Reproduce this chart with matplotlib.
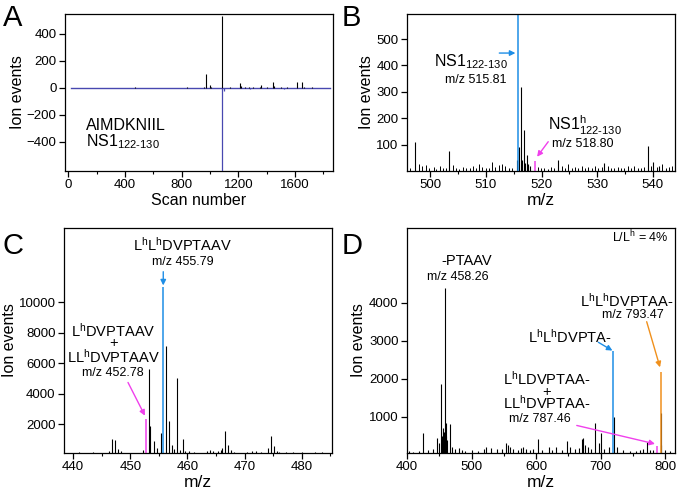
import numpy as np
import matplotlib
matplotlib.use("Agg")
import matplotlib.pyplot as plt
from matplotlib.ticker import MultipleLocator

plt.rcParams['font.family'] = ['Liberation Sans', 'DejaVu Sans']
plt.rcParams['mathtext.fontset'] = 'custom'
plt.rcParams['mathtext.rm'] = 'Liberation Sans'
plt.rcParams['mathtext.it'] = 'Liberation Sans:italic'
plt.rcParams['mathtext.bf'] = 'Liberation Sans:bold'
plt.rcParams['mathtext.sf'] = 'Liberation Sans'

BLUE = '#1e8ee6'
MAGENTA = '#f040ec'
ORANGE = '#f0901c'
NAVY = '#4848b0'

# --- Panel A: extracted ion chromatogram (light up, heavy down) ---
scan_pos = [470, 835, 960, 970, 1000, 1010, 1087, 1140, 1212, 1222, 1250, 1276,
            1300, 1350, 1360, 1400, 1442, 1455, 1500, 1540, 1612, 1651, 1660, 1717]
events_pos = [4, 6, 5, 100, 20, 8, 530, 8, 35, 15, 8, 8,
              4, 10, 20, 5, 45, 18, 6, 4, 45, 45, 10, 6]
scan_neg = [1087, 1100, 1280, 1520]
events_neg = [-620, -20, -5, -5]
scan_range = [20, 1850]

# --- Panel B: MS spectrum around NS1 122-130 ---
b_mz = [497.2, 503.3, 515.55, 516.0, 516.31, 516.55, 516.81, 517.05, 517.31,
        517.6, 518.0, 523.0, 531.3, 539.1, 540.1, 541.1]
b_int = [110, 75, 40, 90, 320, 40, 155, 30, 60, 25, 20, 40, 30, 95, 35, 20]
b_noise_mz = [496.4, 497.9, 498.5, 499.2, 499.8, 500.6, 501.1, 501.7, 502.3, 502.8,
              504.0, 504.6, 505.2, 505.9, 506.5, 507.1, 507.6, 508.2, 508.8, 509.3,
              510.0, 510.6, 511.1, 511.7, 512.3, 512.9, 513.5, 514.1, 514.7, 519.3,
              519.9, 520.5, 521.1, 521.7, 522.3, 523.6, 524.2, 524.8, 525.4, 526.0,
              526.6, 527.2, 527.8, 528.4, 529.0, 529.6, 530.2, 530.8, 531.9, 532.5,
              533.1, 533.7, 534.3, 534.9, 535.5, 536.1, 536.7, 537.3, 537.9, 538.5,
              539.6, 540.7, 541.7, 542.3, 542.9, 543.5]
b_noise_int = [12, 25, 20, 22, 10, 15, 8, 18, 12, 10,
               22, 12, 8, 15, 12, 10, 18, 12, 25, 15,
               10, 12, 35, 15, 22, 25, 18, 12, 10, 15,
               10, 12, 8, 15, 10, 20, 12, 25, 10, 15,
               12, 20, 10, 15, 12, 20, 10, 15, 18, 12,
               10, 15, 12, 10, 20, 12, 18, 10, 12, 15,
               20, 15, 25, 12, 15, 18]
b_light = (515.81, 600)
b_heavy = (518.80, 37)

# --- Panel C ---
c_mz = [441.0, 443.5, 446.3, 446.8, 447.3, 447.8, 448.3, 452.3, 453.28, 453.5,
        454.2, 454.7, 455.29, 456.29, 456.79, 457.29, 457.7, 458.2, 458.7, 459.15,
        459.6, 460.3, 461.2, 463.4, 463.9, 464.4, 465.3, 465.8, 466.1, 466.6,
        467.1, 467.6, 468.2, 470.5, 471.3, 472.0, 472.8, 474.1, 474.6, 475.1,
        475.6, 476.1, 477.3, 478.5, 480.0, 482.4, 483.6]
c_int = [180, 150, 250, 1000, 950, 350, 200, 300, 5600, 1900,
         900, 400, 1400, 7100, 2200, 600, 350, 5000, 300, 1000,
         250, 250, 180, 250, 300, 200, 200, 300, 400, 1550,
         600, 300, 180, 180, 250, 200, 180, 400, 1200, 550,
         200, 180, 180, 180, 180, 180, 180]
c_heavy = (455.77, 11000)
c_mixed = (452.78, 2300)

# --- Panel D ---
d_mz = [403, 410, 418, 424.8, 432, 440, 446.5, 450, 452.6, 454, 455.2, 456.5,
        457.2, 458.26, 459.3, 460, 461, 462, 466, 470, 475, 480, 485, 490,
        500, 510, 520, 523, 530, 540, 548, 553, 556, 560, 565, 572, 576, 580,
        585, 590, 596, 603, 610, 620, 625, 630.7, 640, 647.7, 652, 660, 666,
        671, 673, 676, 680, 686, 691.6, 697, 701, 705, 713, 720.4, 725, 735,
        745, 755, 761, 766, 771.6, 776, 781, 793.97, 794.47, 800, 808]
d_int = [90, 80, 110, 560, 120, 150, 430, 300, 1850, 500, 600, 700,
         600, 4400, 500, 830, 500, 400, 800, 200, 150, 180, 120, 100,
         130, 110, 160, 200, 180, 150, 160, 320, 250, 200, 150, 120, 180, 200,
         150, 120, 160, 410, 120, 210, 130, 200, 120, 360, 200, 150, 180,
         410, 430, 250, 200, 150, 825, 300, 580, 150, 210, 1000, 200, 120,
         110, 100, 120, 150, 340, 130, 120, 1100, 250, 120, 90]
d_ptaav = (458.26, 4400)
d_lhlhdvpta = (719.9, 2720)
d_mixed = (787.46, 230)
d_lhlh = (793.47, 2170)

fig = plt.figure(figsize=(6.78, 4.95), dpi=100)
W, H = 678.0, 495.0


def make_ax(l, t, r, b):
    return fig.add_axes([l / W, 1 - b / H, (r - l) / W, (b - t) / H])


def style(ax, major, minor):
    ax.xaxis.set_major_locator(MultipleLocator(major))
    ax.xaxis.set_minor_locator(MultipleLocator(minor))
    ax.tick_params(direction='out', length=4, width=0.9, labelsize=9.5, pad=2)
    ax.tick_params(which='minor', direction='out', length=2.5, width=0.8)
    ax.tick_params(axis='x', top=False)
    ax.tick_params(axis='y', which='minor', left=False)
    for s in ax.spines.values():
        s.set_linewidth(0.9)


def arrow(ax, head, tail, color):
    ax.annotate('', xy=head, xytext=tail,
                arrowprops=dict(arrowstyle='-|>', color=color, lw=1.0,
                                mutation_scale=8, shrinkA=0, shrinkB=0))


# Panel A
axA = make_ax(65, 14, 333, 171)
axA.plot(scan_range, [0, 0], color=NAVY, lw=1.0, zorder=2)
axA.vlines(scan_pos, 0, events_pos, color='black', lw=0.8, zorder=3)
axA.vlines(scan_neg, 0, events_neg, color=NAVY, lw=0.9, zorder=3)
axA.set_xlim(-23, 1868)
axA.set_ylim(-615, 548)
axA.set_yticks([-400, -200, 0, 200, 400])
style(axA, 400, 200)
axA.set_xlabel('Scan number', fontsize=11.5, labelpad=1)
axA.set_ylabel('Ion events', fontsize=11.5, labelpad=1)
axA.text(125, -311, 'AIMDKNIIL', fontsize=11.5)
axA.text(125, -430, r'NS1$_{\mathrm{122\text{-}130}}$', fontsize=11.5)

# Panel B
axB = make_ax(407, 14, 675, 171)
axB.vlines(b_noise_mz, 0, b_noise_int, color='black', lw=0.7)
axB.vlines(b_mz, 0, b_int, color='black', lw=0.8)
axB.vlines(b_light[0], 0, b_light[1], color=BLUE, lw=1.1)
axB.vlines(b_heavy[0], 0, b_heavy[1], color=MAGENTA, lw=1.1)
axB.set_xlim(495.8, 544)
axB.set_ylim(0, 595)
axB.set_yticks([100, 200, 300, 400, 500])
style(axB, 10, 5)
axB.set_xlabel('m/z', fontsize=12.5, labelpad=1)
axB.set_ylabel('Ion events', fontsize=11.5, labelpad=2)
axB.text(513.9, 395, r'NS1$_{\mathrm{122\text{-}130}}$', fontsize=11.5, ha='right')
axB.text(508.2, 333, 'm/z 515.81', fontsize=9, ha='center')
arrow(axB, (515.3, 447), (512.4, 447), BLUE)
axB.text(521.2, 155, r'NS1$^{\mathrm{h}}_{\mathrm{122\text{-}130}}$', fontsize=11.5)
axB.text(521.9, 92, 'm/z 518.80', fontsize=9)
arrow(axB, (519.2, 54), (521.2, 111), MAGENTA)

# Panel C
axC = make_ax(64, 228, 332, 453)
axC.vlines(c_mz, 0, c_int, color='black', lw=0.8)
axC.vlines(c_heavy[0], 0, c_heavy[1], color=BLUE, lw=1.1)
axC.vlines(c_mixed[0], 0, c_mixed[1], color=MAGENTA, lw=1.1)
axC.set_xlim(438.4, 485.3)
axC.set_ylim(100, 14870)
axC.set_yticks([2000, 4000, 6000, 8000, 10000])
style(axC, 10, 5)
axC.set_xlabel('m/z', fontsize=12.5, labelpad=1)
axC.set_ylabel('Ion events', fontsize=11.5, labelpad=1)
axC.text(459.2, 13760, r'L$^{\mathrm{h}}$L$^{\mathrm{h}}$DVPTAAV', fontsize=10.5,
         ha='center', va='center')
axC.text(459.2, 12640, 'm/z 455.79', fontsize=9, ha='center', va='center')
arrow(axC, (c_heavy[0], 11100), (c_heavy[0], 12000), BLUE)
axC.text(447.0, 8150, r'L$^{\mathrm{h}}$DVPTAAV', fontsize=10.5, ha='center', va='center')
axC.text(447.0, 7330, '+', fontsize=10.5, ha='center', va='center')
axC.text(447.0, 6420, r'LL$^{\mathrm{h}}$DVPTAAV', fontsize=10.5, ha='center', va='center')
axC.text(447.0, 5330, 'm/z 452.78', fontsize=9, ha='center', va='center')
arrow(axC, (452.56, 2550), (449.6, 4730), MAGENTA)

# Panel D
axD = make_ax(407, 228, 675, 453)
axD.vlines(d_mz, 0, d_int, color='black', lw=0.8)
axD.vlines(d_lhlhdvpta[0], 0, d_lhlhdvpta[1], color=BLUE, lw=1.1)
axD.vlines(d_mixed[0], 0, d_mixed[1], color=MAGENTA, lw=1.1)
axD.vlines(d_lhlh[0], 0, d_lhlh[1], color=ORANGE, lw=1.1)
axD.set_xlim(400, 815.5)
axD.set_ylim(45, 5966)
axD.set_yticks([1000, 2000, 3000, 4000])
style(axD, 100, 50)
axD.set_xlabel('m/z', fontsize=12.5, labelpad=1)
axD.set_ylabel('Ion events', fontsize=11.5, labelpad=2)
axD.text(805, 5730, r'L/L$^{\mathrm{h}}$ = 4%', fontsize=9, ha='right', va='center')
axD.text(492.9, 5105, '-PTAAV', fontsize=10.5, ha='center', va='center')
axD.text(479.4, 4684, 'm/z 458.26', fontsize=9, ha='center', va='center')
axD.text(740.7, 4060, r'L$^{\mathrm{h}}$L$^{\mathrm{h}}$DVPTAA-', fontsize=10.5,
         ha='center', va='center')
axD.text(750.4, 3680, 'm/z 793.47', fontsize=9, ha='center', va='center')
arrow(axD, (792.3, 2300), (771.6, 3500), ORANGE)
axD.text(652.9, 3105, r'L$^{\mathrm{h}}$L$^{\mathrm{h}}$DVPTA-', fontsize=10.5,
         ha='center', va='center')
arrow(axD, (718.5, 2740), (696.7, 2958), BLUE)
axD.text(616.8, 2010, r'L$^{\mathrm{h}}$LDVPTAA-', fontsize=10.5, ha='center', va='center')
axD.text(616.8, 1660, '+', fontsize=10.5, ha='center', va='center')
axD.text(616.8, 1360, r'LL$^{\mathrm{h}}$DVPTAA-', fontsize=10.5, ha='center', va='center')
axD.text(606.4, 940, 'm/z 787.46', fontsize=9, ha='center', va='center')
arrow(axD, (784.5, 285), (663.2, 770), MAGENTA)

# Panel letters
for lbl, x, y in [('A', 3, 4), ('B', 342, 4), ('C', 3, 232), ('D', 342, 232)]:
    fig.text(x / W, 1 - y / H, lbl, fontsize=21, ha='left', va='top')

fig.savefig('out.png', dpi=100)
